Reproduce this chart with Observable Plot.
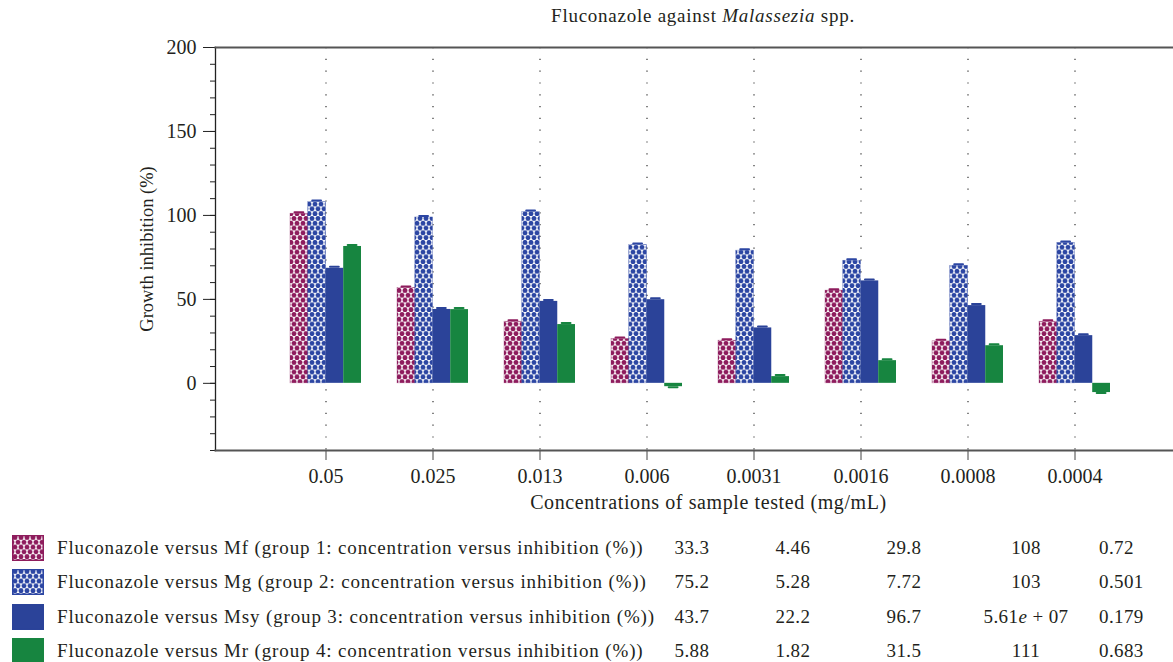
<!DOCTYPE html>
<html><head><meta charset="utf-8">
<script src="https://cdn.jsdelivr.net/npm/d3@7"></script>
<script src="https://cdn.jsdelivr.net/npm/@observablehq/plot@0.6"></script>
<style>
body{margin:0;background:#fff;font-family:"Liberation Serif",serif;color:#231f20}
#wrap{position:relative;width:1173px;height:662px;overflow:hidden}
#title{position:absolute;top:5px;left:703px;transform:translateX(-50%);white-space:nowrap;font-size:19px;letter-spacing:0.75px}
.row{position:absolute;left:0;width:1173px;height:26px}
.row svg{position:absolute;left:12px;top:0}
.row span{position:absolute;top:50%;transform:translateY(-50%);white-space:nowrap;font-size:19px}
.row span.lab{letter-spacing:0.85px}
.row span.c{transform:translate(-50%,-50%);letter-spacing:0.4px}
.row span.l{letter-spacing:0.4px}
svg text{font-family:"Liberation Serif",serif}
</style></head><body>
<div id="wrap"><div id="chart"></div><div id="title">Fluconazole against <i>Malassezia</i> spp.</div><div id="legend"></div></div>
<script>
const concentrations = ["0.05","0.025","0.013","0.006","0.0031","0.0016","0.0008","0.0004"];
const seriesNames = [
  "Fluconazole versus Mf (group 1: concentration versus inhibition (%))",
  "Fluconazole versus Mg (group 2: concentration versus inhibition (%))",
  "Fluconazole versus Msy (group 3: concentration versus inhibition (%))",
  "Fluconazole versus Mr (group 4: concentration versus inhibition (%))"
];
const mfValues  = [101, 56.8, 36.7, 26.4, 25.4, 55.2, 25.0, 36.7];
const mgValues  = [108, 98.8, 102, 82.4, 79.0, 73.0, 70.0, 83.6];
const msyValues = [68.5, 44.0, 48.8, 49.8, 33.0, 61.0, 46.3, 28.4];
const mrValues  = [81.5, 43.9, 35.0, -2.0, 4.0, 13.5, 22.4, -5.5];
const errValues = [1.2, 1.2, 1.2, 1.2];
const tableRows = [
  ["33.3","4.46","29.8","108","0.72"],
  ["75.2","5.28","7.72","103","0.501"],
  ["43.7","22.2","96.7","5.61e + 07","0.179"],
  ["5.88","1.82","31.5","111","0.683"]
];
const yMajorTicks = [0, 50, 100, 150, 200];
const yMinorTicks = d3.range(-40, 201, 10);
const xLabel = "Concentrations of sample tested (mg/mL)";
const yLabel = "Growth inhibition (%)";

const colors = ["#8e1c5d", "#2c46a3", "#2b4399", "#178540"];
const fills = ["url(#pMf)", "url(#pMg)", colors[2], colors[3]];
const seriesValues = [mfValues, mgValues, msyValues, mrValues];
const FF = "Liberation Serif, serif";

const data = [];
seriesValues.forEach((vals, s) => vals.forEach((v, i) => data.push({series: s, conc: concentrations[i], value: v, err: errValues[s]})));

// band geometry
const xr = [270, 1130], pIn = 0.34, pOut = 0.17;
const step = (xr[1]-xr[0]) / (concentrations.length - pIn + 2*pOut);
const bw = step * (1 - pIn);
const w = bw / 4;

const marks = [
  Plot.ruleX(concentrations, {x: d => d, stroke: "#333", strokeWidth: 1.2, strokeDasharray: "1.2,10.6"}),
];
for (let s = 0; s < 4; s++) {
  const sd = data.filter(d => d.series === s);
  marks.push(Plot.barY(sd, {x: "conc", y: "value", fill: fills[s], stroke: s < 2 ? colors[s] : "none", strokeWidth: 0.6, strokeOpacity: 0.5, insetLeft: s*w, insetRight: (3-s)*w}));
  marks.push(Plot.rectY(sd, {x: "conc", y1: "value", y2: d => d.value + Math.sign(d.value)*d.err, fill: colors[s], insetLeft: s*w + 3.5, insetRight: (3-s)*w + 3.5, rx: 1}));
}
marks.push(
  Plot.axisY({ticks: yMajorTicks, tickSize: 12, tickPadding: 7, fontSize: 20, fontFamily: FF, label: null, stroke: "#222", fill: "#231f20"}),
  Plot.axisY({ticks: yMinorTicks, tickSize: 5, text: null, label: null, stroke: "#222"}),
  Plot.axisX({tickSize: 10, tickPadding: 8, fontSize: 20, fontFamily: FF, label: null, stroke: "#444", fill: "#231f20"}),
  Plot.frame({anchor: "left", stroke: "#222", strokeWidth: 1.3}),
  Plot.frame({anchor: "top", stroke: "#555", strokeWidth: 2}),
  Plot.frame({anchor: "bottom", stroke: "#555", strokeWidth: 2}),
  Plot.text([xLabel], {frameAnchor: "bottom", dx: 14, dy: 58, fontSize: 20, fontFamily: FF, fill: "#231f20"}),
  Plot.text([yLabel], {frameAnchor: "left", textAnchor: "middle", dx: -68, rotate: -90, fontSize: 18.5, fontFamily: FF, fill: "#231f20"})
);

const plot = Plot.plot({
  width: 1173, height: 528,
  marginLeft: 215, marginRight: 0, marginTop: 47, marginBottom: 78,
  style: {fontFamily: FF, background: "#fff"},
  x: {domain: concentrations, range: xr, paddingInner: pIn, paddingOuter: pOut, axis: null},
  y: {domain: [-40, 200], axis: null},
  marks
});
plot.querySelectorAll("text").forEach(t => { if (t.textContent === xLabel) t.style.letterSpacing = "0.6px"; });

// patterns
const ns = "http://www.w3.org/2000/svg";
const defs = document.createElementNS(ns, "defs");
function makePattern(id, color) {
  const p = document.createElementNS(ns, "pattern");
  p.setAttribute("id", id); p.setAttribute("patternUnits", "userSpaceOnUse");
  p.setAttribute("width", 6); p.setAttribute("height", 9.6);
  const bg = document.createElementNS(ns, "rect");
  bg.setAttribute("width", 6); bg.setAttribute("height", 9.6); bg.setAttribute("fill", "#fff");
  p.appendChild(bg);
  [[3, 2.4], [0, 7.2], [6, 7.2]].forEach(([cx, cy]) => {
    const c = document.createElementNS(ns, "circle");
    c.setAttribute("cx", cx); c.setAttribute("cy", cy); c.setAttribute("r", 2.45); c.setAttribute("fill", color);
    p.appendChild(c);
  });
  defs.appendChild(p);
}
makePattern("pMf", colors[0]);
makePattern("pMg", colors[1]);
plot.insertBefore(defs, plot.firstChild);
document.getElementById("chart").appendChild(plot);

// legend table
const legend = document.getElementById("legend");
const colCenters = [692, 793, 904, 1026];
const lastColLeft = 1099;
seriesNames.forEach((name, i) => {
  const row = document.createElement("div");
  row.className = "row";
  row.style.top = (535 + i * 34.3) + "px";
  row.innerHTML = `<svg width="32" height="26"><rect x="0.75" y="0.75" width="30.5" height="24.5" fill="${fills[i]}" stroke="${colors[i]}" stroke-width="1.5"/></svg>` +
    `<span class="lab" style="left:57px">${name}</span>` +
    tableRows[i].slice(0, 4).map((v, j) => `<span class="c" style="left:${colCenters[j]}px">${v.replace("e", "<i>e</i>")}</span>`).join("") +
    `<span class="l" style="left:${lastColLeft}px">${tableRows[i][4]}</span>`;
  legend.appendChild(row);
});
</script>
</body></html>
